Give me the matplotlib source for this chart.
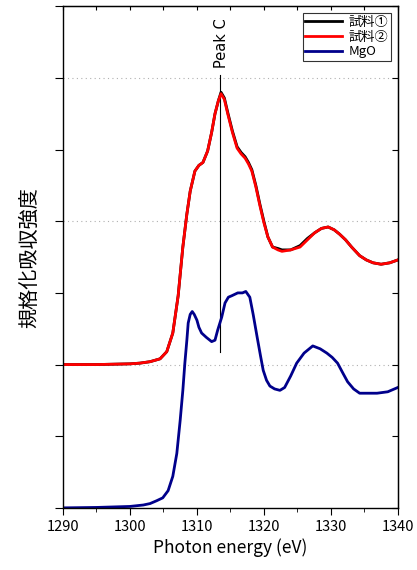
import matplotlib.pyplot as plt
from matplotlib.ticker import MultipleLocator

plt.rcParams['font.family'] = ['Noto Sans CJK JP', 'DejaVu Sans']

# 試料② (offset +1)
energy_s2 = [1290, 1295, 1300, 1301.5, 1303, 1304.5, 1305.5, 1306.4, 1307.2, 1307.9, 1308.5,
             1309.0, 1309.7, 1310.3, 1310.9, 1311.6, 1312.2, 1312.7, 1313.2, 1313.6, 1314.1,
             1314.6, 1315.3, 1316.0, 1316.6, 1317.2, 1317.7, 1318.2, 1318.8, 1319.4, 1320.0,
             1320.6, 1321.3, 1322.1, 1322.7, 1324.0, 1325.4, 1326.5, 1327.6, 1328.6, 1329.6,
             1330.5, 1331.3, 1332.2, 1333.1, 1334.3, 1335.3, 1336.3, 1337.5, 1338.8, 1340]
sample2 = [1.00, 1.00, 1.005, 1.01, 1.02, 1.04, 1.09, 1.22, 1.48, 1.82, 2.05,
           2.21, 2.35, 2.39, 2.41, 2.49, 2.62, 2.75, 2.84, 2.89, 2.85,
           2.75, 2.62, 2.51, 2.47, 2.44, 2.40, 2.35, 2.24, 2.11, 1.99,
           1.89, 1.82, 1.80, 1.79, 1.80, 1.82, 1.87, 1.92, 1.95, 1.96,
           1.94, 1.91, 1.87, 1.82, 1.76, 1.73, 1.71, 1.70, 1.71, 1.73]
# 試料① (almost identical, a touch higher on the falling side)
sample1 = [1.00, 1.00, 1.005, 1.01, 1.02, 1.04, 1.09, 1.22, 1.48, 1.82, 2.05,
           2.21, 2.35, 2.39, 2.41, 2.49, 2.62, 2.75, 2.84, 2.90, 2.86,
           2.76, 2.63, 2.52, 2.48, 2.45, 2.41, 2.36, 2.25, 2.12, 2.00,
           1.89, 1.82, 1.81, 1.80, 1.80, 1.83, 1.88, 1.92, 1.95, 1.96,
           1.94, 1.91, 1.87, 1.82, 1.76, 1.73, 1.71, 1.70, 1.71, 1.73]

energy_mgo = [1290, 1295, 1300, 1302, 1303, 1304.0, 1304.9, 1305.7, 1306.4, 1307.0, 1307.5,
              1307.9, 1308.2, 1308.5, 1308.7, 1309.0, 1309.3, 1309.6, 1310.0, 1310.3, 1310.7,
              1311.4, 1312.2, 1312.7, 1313.1, 1313.7, 1314.2, 1314.7, 1315.2, 1316.1, 1316.8,
              1317.3, 1317.9, 1318.4, 1319.0, 1319.5, 1319.9, 1320.4, 1320.9, 1321.6, 1322.4,
              1323.1, 1324.0, 1324.9, 1326.0, 1327.3, 1328.4, 1329.4, 1330.2, 1331.0, 1331.8,
              1332.5, 1333.4, 1334.3, 1335.5, 1336.9, 1338.5, 1340]
mgo = [0.00, 0.003, 0.01, 0.02, 0.03, 0.05, 0.07, 0.12, 0.22, 0.38, 0.61,
       0.82, 1.01, 1.17, 1.29, 1.35, 1.37, 1.35, 1.31, 1.26, 1.22,
       1.19, 1.16, 1.17, 1.24, 1.33, 1.43, 1.47, 1.48, 1.50, 1.50,
       1.51, 1.47, 1.35, 1.19, 1.06, 0.96, 0.89, 0.85, 0.83, 0.82,
       0.84, 0.92, 1.01, 1.08, 1.13, 1.11, 1.08, 1.05, 1.01, 0.94,
       0.88, 0.83, 0.80, 0.80, 0.80, 0.81, 0.84]

peak_c = 1313.4
peak_line = (1.09, 3.02)

fig = plt.figure(figsize=(4.17, 5.70), dpi=100)
ax = fig.add_axes([0.151, 0.109, 0.803, 0.880])

for yy in (1, 2, 3):
    ax.axhline(yy, color='#b0b0b0', lw=0.8, ls=(0, (1, 3)), zorder=0)

ax.plot(energy_s2, sample1, color='black', lw=2.0, label='試料①')
ax.plot(energy_s2, sample2, color='#ff0000', lw=2.0, label='試料②')
ax.plot(energy_mgo, mgo, color='#00008b', lw=2.0, label='MgO')

ax.plot([peak_c, peak_c], peak_line, color='black', lw=0.8, zorder=1)
ax.text(peak_c + 0.2, 3.07, 'Peak C', rotation=90, ha='center', va='bottom',
        fontsize=10.5, family='DejaVu Sans')

ax.set_xlim(1290, 1340)
ax.set_ylim(0, 3.5)
ax.xaxis.set_major_locator(MultipleLocator(10))
ax.xaxis.set_minor_locator(MultipleLocator(5))
ax.yaxis.set_major_locator(MultipleLocator(0.5))
ax.set_yticklabels([])
ax.tick_params(axis='x', which='major', direction='out', length=5, labelsize=10.5, top=False)
ax.tick_params(axis='x', which='minor', direction='out', length=3, top=False)
ax.tick_params(axis='y', which='major', direction='out', length=6, right=False)
for s in ax.spines.values():
    s.set_linewidth(1.0)

# inward ticks on top and right
sec = ax.secondary_xaxis('top')
sec.xaxis.set_major_locator(MultipleLocator(5))
sec.tick_params(direction='in', length=3, labeltop=False)
sec.set_xticklabels([])
sec2 = ax.secondary_yaxis('right')
sec2.yaxis.set_major_locator(MultipleLocator(0.5))
sec2.tick_params(direction='in', length=4)
sec2.set_yticklabels([])

ax.set_xlabel('Photon energy (eV)', fontsize=12.5, labelpad=3)
ax.set_ylabel('規格化吸収強度', fontsize=14.5, labelpad=7)

leg = ax.legend(loc='upper right', fontsize=9.5, frameon=True, fancybox=False,
                edgecolor='black', handlelength=2.8, handletextpad=0.5,
                labelspacing=0.15, borderpad=0.2, borderaxespad=0.5)
leg.get_frame().set_linewidth(0.8)

fig.savefig('out.png', dpi=100)
